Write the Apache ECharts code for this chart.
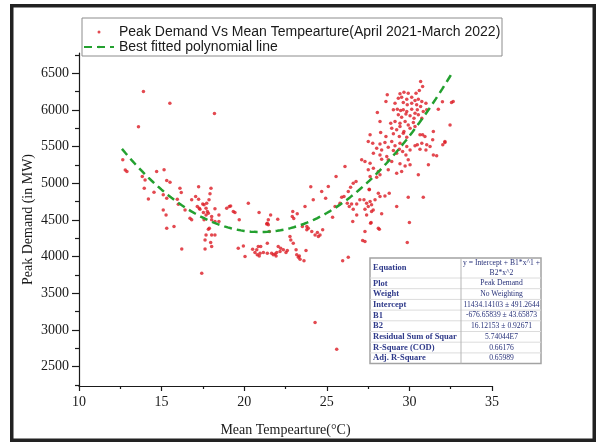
<!DOCTYPE html>
<html>
<head>
<meta charset="utf-8">
<script src="https://cdn.jsdelivr.net/npm/echarts@6/dist/echarts.min.js"></script>
<style>
  html, body { margin: 0; padding: 0; background: #ffffff; }
  #chart { width: 597px; height: 443px; }
</style>
</head>
<body>
<div id="chart"></div>
<script>
// Daily peak demand (MW) against mean temperature (°C)
const demandPoints = [
  [13.9,6250],[15.5,6090],[18.2,5950],[13.6,5770],[12.65,5320],[12.8,5180],[12.9,5160],[13.83,5090],[14.0,5045],
  [14.7,5158],[15.15,5182],[15.31,5036],[15.51,5014],[13.95,4932],[14.54,4878],[14.2,4786],[15.1,4841],[15.31,4796],
  [15.95,4782],[16.19,4872],[17.24,4950],[17.99,4932],[17.93,4855],[17.06,4818],[16.82,4773],[16.01,4714],[17.24,4782],
  [17.49,4718],[17.16,4681],[17.28,4660],[17.69,4660],[17.87,4773],[18.23,4650],[16.42,4636],[16.72,4523],[16.82,4500],
  [17.53,4600],[17.69,4568],[17.83,4591],[18.03,4545],[18.47,4568],[18.47,4477],[18.94,4660],[19.1,4681],[19.18,4690],
  [19.34,4613],[19.44,4600],[19.7,4500],[20.25,4728],[20.9,4600],[21.6,4568],[21.36,4445],[21.46,4432],[22.03,4510],
  [22.94,4613],[23.21,4582],[22.91,4545],[23.68,4681],[24.03,4950],[24.18,4773],[15.1,4636],[15.27,4568],[15.75,4409],
  [15.31,4387],[17.89,4387],[23.52,4409],[23.79,4409],
  [17.57,4705],[17.73,4728],[17.32,4646],[17.77,4613],[18.03,4500],[18.23,4477],[17.57,4500],[17.83,4373],[17.69,4295],
  [17.63,4227],[18.03,4295],[18.23,4295],[17.97,4190],[18.03,4136],[17.63,4104],[16.22,4104],[16.11,4932],[21.46,4500],
  [21.40,4455],[21.52,4341],[21.40,4182],[19.64,4114],[19.95,4145],[20.05,4000],[20.51,4100],[20.76,4091],[20.85,4136],
  [21.0,4136],[20.65,4054],[20.79,4023],[20.96,4045],[20.91,4009],[21.16,4054],[21.4,4045],[21.66,4045],[21.87,4036],
  [21.97,4054],[22.17,4068],[22.06,4136],[22.21,4114],[22.37,4091],[22.53,4054],[22.61,4082],[21.76,4023],[21.93,4009],
  [22.77,4273],[22.82,4227],[22.97,4182],[23.14,4091],[23.18,4023],[23.28,3991],[23.34,4009],[23.38,3964],[23.62,3941],
  [23.74,4082],[23.0,4520],[23.88,4387],[23.79,4364],[24.09,4341],[24.29,4295],[24.43,4327],[24.49,4273],[24.59,4295],
  [24.75,4364],[24.69,4886],[25.09,4954],[24.93,4796],[25.35,4537],[25.5,4681],[25.8,4728],[25.9,4809],[26.04,4818],
  [26.3,4886],[26.44,4946],[26.6,5000],[26.77,5023],[26.24,4728],[26.36,4681],[26.5,4718],[26.6,4646],[26.81,4718],
  [26.57,4477],[26.81,4568],[27.25,4773],[27.41,4728],[27.71,4705],[27.81,4636],[27.92,4773],[28.12,4864],[27.57,4909],
  [27.41,4568],[27.68,4464],[28.12,4387],[27.31,4341],[27.17,4218],[27.31,4205],[25.96,3941],[26.3,3991],[17.43,3773],
  [24.29,3100],[25.6,2737],
  [30.68,6386],[30.8,6318],[30.6,6264],[28.66,6205],[29.43,6218],[29.67,6241],[29.93,6227],[30.4,6227],[29.33,6159],
  [29.53,6173],[29.84,6145],[30.14,6173],[30.34,6127],[30.54,6145],[30.75,6113],[28.58,6113],[29.13,6091],[29.63,6100],
  [29.87,6068],[30.14,6091],[30.44,6068],[30.68,6045],[31.0,6091],[32.0,6110],[32.55,6100],[32.65,6113],[32.46,5795],
  [32.02,5523],[32.15,5554],[31.75,6009],[28.06,5963],[29.03,6000],[29.27,6009],[29.47,5990],[29.63,6000],[29.84,5977],
  [30.14,6009],[30.34,5954],[30.48,6000],[30.84,5977],[31.05,6000],[30.75,5886],[29.33,5932],[29.53,5900],[29.79,5945],
  [30.04,5918],[30.28,5886],[30.54,5932],[28.22,5840],[28.87,5818],[29.13,5840],[29.43,5818],[29.74,5840],[29.93,5795],
  [30.24,5827],[28.93,5750],[29.23,5727],[29.43,5772],[29.67,5704],[30.04,5750],[30.34,5772],[27.62,5659],[28.26,5691],
  [28.58,5636],[29.03,5673],[29.39,5636],[29.63,5682],[29.84,5627],[30.64,5659],[30.8,5659],[30.94,5636],[31.45,5704],
  [27.51,5568],[27.78,5545],[28.22,5536],[28.52,5554],[28.93,5568],[29.13,5509],[29.43,5545],[29.84,5500],[30.34,5509],
  [30.48,5523],[30.75,5545],[31.05,5523],[31.41,5591],[32.15,5568],[28.02,5477],[28.32,5454],[28.72,5491],[29.03,5445],
  [29.39,5464],[29.59,5432],[30.04,5454],[30.64,5464],[31.0,5454],[31.25,5500],[27.82,5409],[28.22,5386],[28.63,5364],
  [29.23,5409],[29.79,5386],[29.93,5318],[31.45,5386],[27.11,5318],[27.31,5295],[27.62,5273],[28.32,5327],[28.72,5318],
  [28.93,5295],[29.43,5264],[29.74,5236],[30.04,5250],[31.15,5250],[31.65,5373],[27.51,5182],[27.82,5205],[28.12,5159],
  [28.22,5114],[28.72,5182],[29.23,5136],[29.53,5159],[26.1,5227],[25.56,5091],[27.62,5091],[28.02,5082],[30.54,5114],
  [27.57,4918],[28.22,4818],[28.52,4827],[28.78,4864],[27.0,4773],[27.62,4750],[27.51,4681],[27.31,4646],[27.71,4613],
  [28.32,4582],[29.23,4681],[29.93,4809],[30.84,4809],[27.65,4455],[28.18,4373],[30.0,4464],[29.87,4190]
];

// Second-order polynomial fit: y = Intercept + B1*x + B2*x^2
const fitCoefficients = [11434.14103, -676.65839, 16.12153];
const fitRange = [12.6, 32.6];

const yLabelValues = [2500, 3000, 3500, 4000, 4500, 5000, 5500, 6000, 6500];
const yMinorValues = [2250, 2750, 3250, 3750, 4250, 4750, 5250, 5750, 6250, 6750];

const seriesNames = ['Peak Demand Vs Mean Tempearture(April 2021-March 2022)', 'Best fitted polynomial line'];

const tableLabels = ['Equation', 'Plot', 'Weight', 'Intercept', 'B1', 'B2',
  'Residual Sum of Squar', 'R-Square (COD)', 'Adj. R-Square'];
const tableValues = ['y = Intercept + B1*x^1 +\nB2*x^2', 'Peak Demand', 'No Weighting',
  '11434.14103 \u00b1 491.2644', '-676.65839 \u00b1 43.65873', '16.12153 \u00b1 0.92671',
  '5.74044E7', '0.66176', '0.65989'];

const fitLine = [];
for (let x = fitRange[0]; x <= fitRange[1] + 1e-9; x += 0.2) {
  const xv = Math.round(x * 100) / 100;
  fitLine.push([xv, fitCoefficients[0] + fitCoefficients[1] * xv + fitCoefficients[2] * xv * xv]);
}

const serif = "'Liberation Serif', 'Times New Roman', serif";
const sans = "'Liberation Sans', Arial, sans-serif";
const ink = '#1a1a1a';

// Fit summary table (bottom right of plot)
const tbl = { left: 370, right: 541, split: 461, top: 258, eqH: 20, rowH: 10.7 };
const tableGraphics = [];
const tblBottom = tbl.top + tbl.eqH + tbl.rowH * (tableLabels.length - 1);
tableGraphics.push({
  type: 'rect', z: 100,
  shape: { x: tbl.left, y: tbl.top, width: tbl.right - tbl.left, height: tblBottom - tbl.top },
  style: { fill: '#ffffff', stroke: '#a3a3a3', lineWidth: 1.5 }
});
for (let i = 0; i < tableLabels.length - 1; i++) {
  const y = tbl.top + tbl.eqH + tbl.rowH * i;
  tableGraphics.push({
    type: 'line', z: 101,
    shape: { x1: tbl.left, y1: y, x2: tbl.right, y2: y },
    style: { stroke: '#dcdcdc', lineWidth: 1 }
  });
}
tableGraphics.push({
  type: 'line', z: 101,
  shape: { x1: tbl.split, y1: tbl.top, x2: tbl.split, y2: tblBottom },
  style: { stroke: '#b5b5b5', lineWidth: 1 }
});
tableLabels.forEach((lab, i) => {
  const cy = i === 0 ? tbl.top + tbl.eqH / 2 : tbl.top + tbl.eqH + tbl.rowH * (i - 0.5);
  tableGraphics.push({
    type: 'text', z: 102, x: tbl.left + 3, y: cy,
    style: { text: lab, fill: '#2f3a8a', font: 'bold 8.5px ' + serif, verticalAlign: 'middle', align: 'left' }
  });
  tableGraphics.push({
    type: 'text', z: 102, x: (tbl.split + tbl.right) / 2 + 0.5, y: cy,
    style: { text: tableValues[i], fill: '#28327a', font: '7.6px ' + serif, verticalAlign: 'middle', align: 'center', lineHeight: 10 }
  });
});

const chart = echarts.init(document.getElementById('chart'), null, { renderer: 'canvas' });
chart.setOption({
  backgroundColor: '#ffffff',
  animation: false,
  grid: { left: 79, right: 105, top: 53, bottom: 57 },
  legend: {
    orient: 'vertical', left: 81, top: 19,
    padding: [6, 2, 3, 2], itemGap: 1,
    itemWidth: 30, itemHeight: 3,
    borderWidth: 0, backgroundColor: 'transparent',
    textStyle: { fontFamily: sans, fontSize: 14, color: ink },
    data: [
      { name: seriesNames[0], icon: 'circle' },
      { name: seriesNames[1] }
    ]
  },
  xAxis: {
    type: 'value', min: 10, max: 35, interval: 5,
    name: 'Mean Tempearture(\u00b0C)', nameLocation: 'middle', nameGap: 37,
    nameMoveOverlap: false,
    nameTextStyle: { fontFamily: serif, fontSize: 14, color: ink },
    axisLine: { show: true, onZero: false, lineStyle: { color: ink, width: 1.2 } },
    axisTick: { show: true, inside: false, length: 5, lineStyle: { color: ink, width: 1.2 } },
    minorTick: { show: true, splitNumber: 2, length: 3, lineStyle: { color: ink, width: 1.2 } },
    axisLabel: { fontFamily: serif, fontSize: 14, color: ink, margin: 9 },
    splitLine: { show: false }
  },
  yAxis: [{
    type: 'value', min: 2235, max: 6775,
    name: 'Peak Demand (in MW)', nameLocation: 'middle', nameGap: 44,
    nameMoveOverlap: false,
    nameTextStyle: { fontFamily: serif, fontSize: 14, color: ink },
    axisLine: { show: true, onZero: false, lineStyle: { color: ink, width: 1.2 } },
    axisTick: { show: true, inside: false, length: 7, customValues: yLabelValues, lineStyle: { color: ink, width: 1.2 } },
    axisLabel: {
      fontFamily: serif, fontSize: 14, color: ink, margin: 10, customValues: yLabelValues,
      formatter: v => String(Math.round(v))
    },
    splitLine: { show: false }
  }, {
    type: 'value', min: 2235, max: 6775, position: 'left',
    axisLine: { show: false },
    axisTick: { show: true, inside: false, length: 4, customValues: yMinorValues, lineStyle: { color: ink, width: 1.2 } },
    axisLabel: { show: false },
    splitLine: { show: false }
  }],
  series: [{
    name: seriesNames[0], type: 'scatter', data: demandPoints,
    symbol: 'circle', symbolSize: 3.5,
    itemStyle: { color: '#dc1c24' }, z: 3
  }, {
    name: seriesNames[1], type: 'line', data: fitLine,
    symbol: 'none', showSymbol: false, smooth: false, z: 4,
    lineStyle: { color: '#23a02f', width: 2.5, type: [8, 5] },
    itemStyle: { color: '#23a02f' }
  }],
  graphic: [
    {
      type: 'rect', z: 120, silent: true,
      shape: { x: 11.75, y: 5.75, width: 582.5, height: 434.5 },
      style: { fill: 'none', stroke: '#222222', lineWidth: 3.5 }
    },
    {
      type: 'rect', z: 50, silent: true,
      shape: { x: 82, y: 18, width: 420, height: 38 },
      style: { fill: 'none', stroke: '#8c8c8c', lineWidth: 1 }
    }
  ].concat(tableGraphics)
});
</script>
</body>
</html>
